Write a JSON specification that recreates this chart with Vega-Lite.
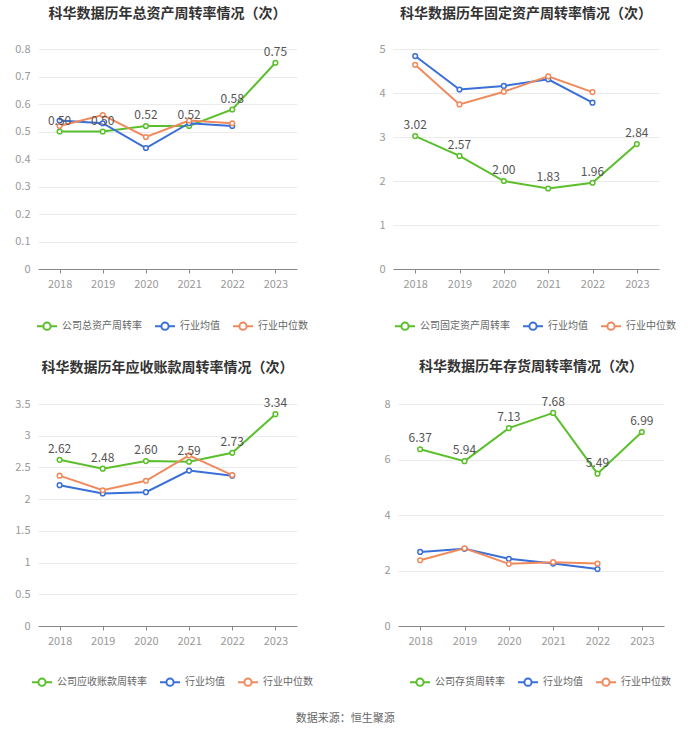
{
  "$schema": "https://vega.github.io/schema/vega-lite/v6.json",
  "padding": {"left": 14, "top": 7, "right": 10, "bottom": 8},
  "background": "white",
  "config": {
    "font": "Noto Sans CJK SC",
    "view": {"stroke": null},
    "title": {"fontSize": 14, "fontWeight": "bold", "color": "#333333", "anchor": "middle", "offset": 22},
    "axisY": {"domain": false, "ticks": false, "gridColor": "#ebebeb", "labelColor": "#999999", "labelFontSize": 11, "labelPadding": 8, "title": null, "format": "~g"},
    "axisX": {"domainColor": "#888888", "tickColor": "#888888", "tickSize": 4, "grid": false, "labelColor": "#999999", "labelFontSize": 11, "labelPadding": 5, "labelAngle": 0, "title": null},
    "legend": {"orient": "none", "direction": "horizontal", "title": null, "labelFontSize": 10, "labelColor": "#666666", "symbolType": "M-1,0L-0.36,0M0.36,0L1,0M0.36,0A0.36,0.36,0,1,1,-0.36,0A0.36,0.36,0,1,1,0.36,0", "symbolSize": 400, "symbolStrokeWidth": 2, "symbolFillColor": "white", "columnPadding": 9, "labelOffset": 4}
  },
  "datasets": {
    "d": [
      {"c": 1, "s": "公司总资产周转率", "year": "2018", "value": 0.50},
      {"c": 1, "s": "公司总资产周转率", "year": "2019", "value": 0.50},
      {"c": 1, "s": "公司总资产周转率", "year": "2020", "value": 0.52},
      {"c": 1, "s": "公司总资产周转率", "year": "2021", "value": 0.52},
      {"c": 1, "s": "公司总资产周转率", "year": "2022", "value": 0.58},
      {"c": 1, "s": "公司总资产周转率", "year": "2023", "value": 0.75},
      {"c": 1, "s": "行业均值", "year": "2018", "value": 0.54},
      {"c": 1, "s": "行业均值", "year": "2019", "value": 0.53},
      {"c": 1, "s": "行业均值", "year": "2020", "value": 0.44},
      {"c": 1, "s": "行业均值", "year": "2021", "value": 0.53},
      {"c": 1, "s": "行业均值", "year": "2022", "value": 0.52},
      {"c": 1, "s": "行业中位数", "year": "2018", "value": 0.52},
      {"c": 1, "s": "行业中位数", "year": "2019", "value": 0.56},
      {"c": 1, "s": "行业中位数", "year": "2020", "value": 0.48},
      {"c": 1, "s": "行业中位数", "year": "2021", "value": 0.54},
      {"c": 1, "s": "行业中位数", "year": "2022", "value": 0.53},
      {"c": 2, "s": "公司固定资产周转率", "year": "2018", "value": 3.02},
      {"c": 2, "s": "公司固定资产周转率", "year": "2019", "value": 2.57},
      {"c": 2, "s": "公司固定资产周转率", "year": "2020", "value": 2.00},
      {"c": 2, "s": "公司固定资产周转率", "year": "2021", "value": 1.83},
      {"c": 2, "s": "公司固定资产周转率", "year": "2022", "value": 1.96},
      {"c": 2, "s": "公司固定资产周转率", "year": "2023", "value": 2.84},
      {"c": 2, "s": "行业均值", "year": "2018", "value": 4.84},
      {"c": 2, "s": "行业均值", "year": "2019", "value": 4.08},
      {"c": 2, "s": "行业均值", "year": "2020", "value": 4.16},
      {"c": 2, "s": "行业均值", "year": "2021", "value": 4.31},
      {"c": 2, "s": "行业均值", "year": "2022", "value": 3.78},
      {"c": 2, "s": "行业中位数", "year": "2018", "value": 4.64},
      {"c": 2, "s": "行业中位数", "year": "2019", "value": 3.74},
      {"c": 2, "s": "行业中位数", "year": "2020", "value": 4.03},
      {"c": 2, "s": "行业中位数", "year": "2021", "value": 4.38},
      {"c": 2, "s": "行业中位数", "year": "2022", "value": 4.02},
      {"c": 3, "s": "公司应收账款周转率", "year": "2018", "value": 2.62},
      {"c": 3, "s": "公司应收账款周转率", "year": "2019", "value": 2.48},
      {"c": 3, "s": "公司应收账款周转率", "year": "2020", "value": 2.60},
      {"c": 3, "s": "公司应收账款周转率", "year": "2021", "value": 2.59},
      {"c": 3, "s": "公司应收账款周转率", "year": "2022", "value": 2.73},
      {"c": 3, "s": "公司应收账款周转率", "year": "2023", "value": 3.34},
      {"c": 3, "s": "行业均值", "year": "2018", "value": 2.22},
      {"c": 3, "s": "行业均值", "year": "2019", "value": 2.09},
      {"c": 3, "s": "行业均值", "year": "2020", "value": 2.11},
      {"c": 3, "s": "行业均值", "year": "2021", "value": 2.45},
      {"c": 3, "s": "行业均值", "year": "2022", "value": 2.37},
      {"c": 3, "s": "行业中位数", "year": "2018", "value": 2.37},
      {"c": 3, "s": "行业中位数", "year": "2019", "value": 2.14},
      {"c": 3, "s": "行业中位数", "year": "2020", "value": 2.29},
      {"c": 3, "s": "行业中位数", "year": "2021", "value": 2.69},
      {"c": 3, "s": "行业中位数", "year": "2022", "value": 2.38},
      {"c": 4, "s": "公司存货周转率", "year": "2018", "value": 6.37},
      {"c": 4, "s": "公司存货周转率", "year": "2019", "value": 5.94},
      {"c": 4, "s": "公司存货周转率", "year": "2020", "value": 7.13},
      {"c": 4, "s": "公司存货周转率", "year": "2021", "value": 7.68},
      {"c": 4, "s": "公司存货周转率", "year": "2022", "value": 5.49},
      {"c": 4, "s": "公司存货周转率", "year": "2023", "value": 6.99},
      {"c": 4, "s": "行业均值", "year": "2018", "value": 2.67},
      {"c": 4, "s": "行业均值", "year": "2019", "value": 2.78},
      {"c": 4, "s": "行业均值", "year": "2020", "value": 2.42},
      {"c": 4, "s": "行业均值", "year": "2021", "value": 2.25},
      {"c": 4, "s": "行业均值", "year": "2022", "value": 2.05},
      {"c": 4, "s": "行业中位数", "year": "2018", "value": 2.37},
      {"c": 4, "s": "行业中位数", "year": "2019", "value": 2.80},
      {"c": 4, "s": "行业中位数", "year": "2020", "value": 2.24},
      {"c": 4, "s": "行业中位数", "year": "2021", "value": 2.30},
      {"c": 4, "s": "行业中位数", "year": "2022", "value": 2.25}
    ]
  },
  "title": {"text": "数据来源：恒生聚源", "orient": "bottom", "anchor": "middle", "fontSize": 11, "fontWeight": "normal", "color": "#666666", "offset": 23},
  "spacing": 25,
  "resolve": {"scale": {"color": "independent", "x": "independent", "y": "independent"}, "legend": {"color": "independent"}},
  "vconcat": [
    {
      "spacing": 70,
      "resolve": {"scale": {"color": "independent", "x": "independent", "y": "independent"}, "legend": {"color": "independent"}},
      "hconcat": [
        {
          "width": 259, "height": 220,
          "title": "科华数据历年总资产周转率情况（次）",
          "data": {"name": "d"},
          "transform": [{"filter": "datum.c == 1"}],
          "encoding": {
            "x": {"field": "year", "type": "ordinal"},
            "y": {"field": "value", "type": "quantitative", "scale": {"domain": [0, 0.8], "nice": false}, "axis": {"values": [0, 0.1, 0.2, 0.3, 0.4, 0.5, 0.6, 0.7, 0.8]}},
            "color": {"field": "s", "type": "nominal", "sort": null, "scale": {"domain": ["公司总资产周转率", "行业均值", "行业中位数"], "range": ["#5bbf2c", "#3a6fd8", "#f08a5d"]}, "legend": {"legendX": -2, "legendY": 266}}
          },
          "layer": [
            {"mark": {"type": "line", "strokeWidth": 2}},
            {"mark": {"type": "point", "filled": false, "fill": "white", "size": 22, "strokeWidth": 1.5, "opacity": 1}},
            {"transform": [{"filter": "datum.s == '公司总资产周转率'"}], "mark": {"type": "text", "dy": -11, "fontSize": 12, "color": "#555555"}, "encoding": {"text": {"field": "value", "type": "quantitative", "format": ".2f"}, "color": {"value": "#555555"}}}
          ]
        },
        {
          "width": 266, "height": 220,
          "title": "科华数据历年固定资产周转率情况（次）",
          "data": {"name": "d"},
          "transform": [{"filter": "datum.c == 2"}],
          "encoding": {
            "x": {"field": "year", "type": "ordinal"},
            "y": {"field": "value", "type": "quantitative", "scale": {"domain": [0, 5], "nice": false}, "axis": {"values": [0, 1, 2, 3, 4, 5]}},
            "color": {"field": "s", "type": "nominal", "sort": null, "scale": {"domain": ["公司固定资产周转率", "行业均值", "行业中位数"], "range": ["#5bbf2c", "#3a6fd8", "#f08a5d"]}, "legend": {"legendX": 1, "legendY": 266}}
          },
          "layer": [
            {"mark": {"type": "line", "strokeWidth": 2}},
            {"mark": {"type": "point", "filled": false, "fill": "white", "size": 22, "strokeWidth": 1.5, "opacity": 1}},
            {"transform": [{"filter": "datum.s == '公司固定资产周转率'"}], "mark": {"type": "text", "dy": -11, "fontSize": 12, "color": "#555555"}, "encoding": {"text": {"field": "value", "type": "quantitative", "format": ".2f"}, "color": {"value": "#555555"}}}
          ]
        }
      ]
    },
    {
      "spacing": 70,
      "resolve": {"scale": {"color": "independent", "x": "independent", "y": "independent"}, "legend": {"color": "independent"}},
      "hconcat": [
        {
          "width": 259, "height": 222,
          "title": "科华数据历年应收账款周转率情况（次）",
          "data": {"name": "d"},
          "transform": [{"filter": "datum.c == 3"}],
          "encoding": {
            "x": {"field": "year", "type": "ordinal"},
            "y": {"field": "value", "type": "quantitative", "scale": {"domain": [0, 3.5], "nice": false}, "axis": {"values": [0, 0.5, 1, 1.5, 2, 2.5, 3, 3.5]}},
            "color": {"field": "s", "type": "nominal", "sort": null, "scale": {"domain": ["公司应收账款周转率", "行业均值", "行业中位数"], "range": ["#5bbf2c", "#3a6fd8", "#f08a5d"]}, "legend": {"legendX": -7, "legendY": 267}}
          },
          "layer": [
            {"mark": {"type": "line", "strokeWidth": 2}},
            {"mark": {"type": "point", "filled": false, "fill": "white", "size": 22, "strokeWidth": 1.5, "opacity": 1}},
            {"transform": [{"filter": "datum.s == '公司应收账款周转率'"}], "mark": {"type": "text", "dy": -11, "fontSize": 12, "color": "#555555"}, "encoding": {"text": {"field": "value", "type": "quantitative", "format": ".2f"}, "color": {"value": "#555555"}}}
          ]
        },
        {
          "width": 266, "height": 222,
          "title": "科华数据历年存货周转率情况（次）",
          "data": {"name": "d"},
          "transform": [{"filter": "datum.c == 4"}],
          "encoding": {
            "x": {"field": "year", "type": "ordinal"},
            "y": {"field": "value", "type": "quantitative", "scale": {"domain": [0, 8], "nice": false}, "axis": {"values": [0, 2, 4, 6, 8]}},
            "color": {"field": "s", "type": "nominal", "sort": null, "scale": {"domain": ["公司存货周转率", "行业均值", "行业中位数"], "range": ["#5bbf2c", "#3a6fd8", "#f08a5d"]}, "legend": {"legendX": 11, "legendY": 267}}
          },
          "layer": [
            {"mark": {"type": "line", "strokeWidth": 2}},
            {"mark": {"type": "point", "filled": false, "fill": "white", "size": 22, "strokeWidth": 1.5, "opacity": 1}},
            {"transform": [{"filter": "datum.s == '公司存货周转率'"}], "mark": {"type": "text", "dy": -11, "fontSize": 12, "color": "#555555"}, "encoding": {"text": {"field": "value", "type": "quantitative", "format": ".2f"}, "color": {"value": "#555555"}}}
          ]
        }
      ]
    }
  ]
}
